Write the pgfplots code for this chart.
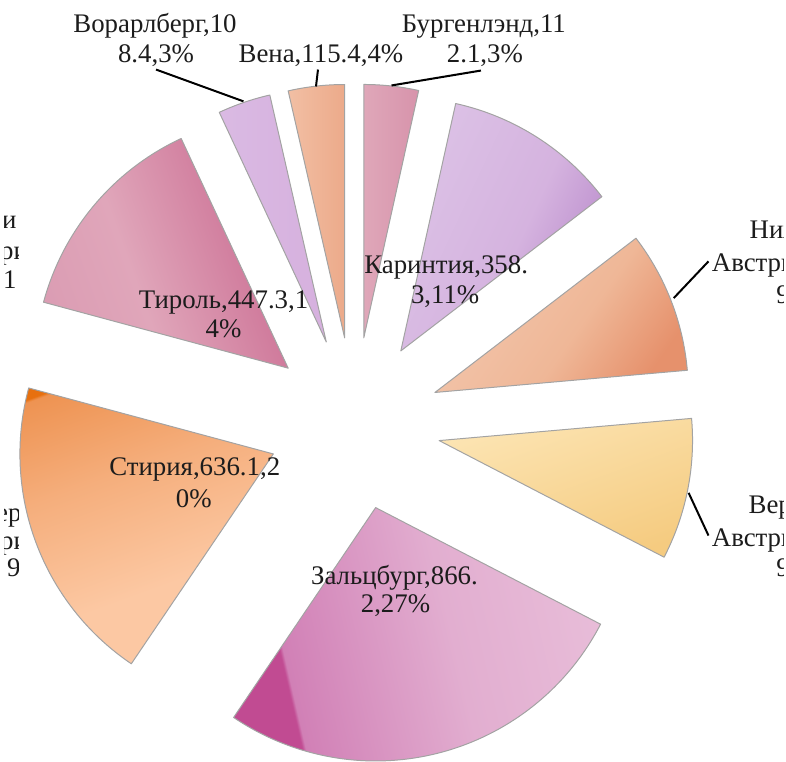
\documentclass[border=0pt]{standalone}
\usepackage{pgfplots}
\pgfplotsset{compat=1.18}
\usepackage{pgfplotstable}
\usepackage{fontspec}
\setmainfont{Liberation Serif}

\definecolor{edge}{HTML}{A3A3A3}
\definecolor{txt}{HTML}{1C1C1C}
\definecolor{burA}{HTML}{DFA7B9}\definecolor{burB}{HTML}{D793AB}
\definecolor{karA}{HTML}{DCC2E6}\definecolor{karM}{HTML}{D5B3DF}\definecolor{karB}{HTML}{B98ACB}
\definecolor{naA}{HTML}{F3C7AE}\definecolor{naM}{HTML}{EFB797}\definecolor{naB}{HTML}{E6916C}
\definecolor{vaA}{HTML}{FCE4B2}\definecolor{vaB}{HTML}{F5CB80}
\definecolor{salD}{HTML}{C14B92}\definecolor{salA}{HTML}{D180B6}\definecolor{salM}{HTML}{E2AED0}\definecolor{salB}{HTML}{E9BFDA}
\definecolor{stiD}{HTML}{E7700F}\definecolor{stiA}{HTML}{EE9352}\definecolor{stiM}{HTML}{F5AE7C}\definecolor{stiB}{HTML}{FCC8A3}
\definecolor{tirA}{HTML}{C9688F}\definecolor{tirM}{HTML}{E0A6BA}\definecolor{tirB}{HTML}{DA9BB2}
\definecolor{vorA}{HTML}{DABAE3}\definecolor{vorB}{HTML}{D6B0DE}
\definecolor{wieA}{HTML}{F2BFA4}\definecolor{wieB}{HTML}{ECAA8A}

% one shading per region, numbered in table order
\pgfdeclarehorizontalshading{sh1}{100bp}{color(0bp)=(burA); color(25bp)=(burA); color(75bp)=(burB); color(100bp)=(burB)}
\pgfdeclarehorizontalshading{sh2}{100bp}{color(0bp)=(karA); color(25bp)=(karA); color(55bp)=(karM); color(75bp)=(karB); color(100bp)=(karB)}
\pgfdeclarehorizontalshading{sh3}{100bp}{color(0bp)=(naA); color(25bp)=(naA); color(55bp)=(naM); color(75bp)=(naB); color(100bp)=(naB)}
\pgfdeclarehorizontalshading{sh4}{100bp}{color(0bp)=(vaA); color(25bp)=(vaA); color(75bp)=(vaB); color(100bp)=(vaB)}
\pgfdeclarehorizontalshading{sh5}{100bp}{color(0bp)=(salD); color(30bp)=(salD); color(30.5bp)=(salA); color(55bp)=(salM); color(80bp)=(salB); color(100bp)=(salB)}
\pgfdeclarehorizontalshading{sh6}{100bp}{color(0bp)=(stiD); color(21.5bp)=(stiD); color(22bp)=(stiA); color(40bp)=(stiM); color(62bp)=(stiB); color(100bp)=(stiB)}
\pgfdeclarehorizontalshading{sh7}{100bp}{color(0bp)=(tirA); color(24bp)=(tirA); color(58bp)=(tirM); color(80bp)=(tirB); color(100bp)=(tirB)}
\pgfdeclarehorizontalshading{sh8}{100bp}{color(0bp)=(vorA); color(25bp)=(vorA); color(75bp)=(vorB); color(100bp)=(vorB)}
\pgfdeclarehorizontalshading{sh9}{100bp}{color(0bp)=(wieA); color(25bp)=(wieA); color(75bp)=(wieB); color(100bp)=(wieB)}

\pgfdeclareplotmark{nothing}{}

% regions clockwise from 12 o'clock; id = shading number, ang = shading angle
\pgfplotstableread{
region value id ang
Burgenland 112.1 1 0
Kaernten 358.3 2 -25
Niederoesterreich 290.9 3 -35
Oberoesterreich 290.5 4 -70
Salzburg 866.2 5 13
Steiermark 636.1 6 -70
Tirol 447.3 7 200
Vorarlberg 108.4 8 0
Wien 115.4 9 0
}\regions

\begin{document}
\pgfplotstablecreatecol[create col/expr accum={\pgfmathaccuma+\thisrow{value}}{0}]{cum}\regions
\pgfplotstablegetelem{8}{cum}\of\regions
\let\total\pgfplotsretval
\def\cx{351.6}\def\cy{339.5}\def\ex{87}\def\R{127.5pt}
\begin{tikzpicture}[x=0.5pt, y=0.5pt,
  lab/.style={inner sep=0pt, text=txt, font=\fontsize{13.5}{15}\selectfont}]
\begin{axis}[
    at={(0,0)}, anchor=south west,
    x=0.5pt, y=0.5pt,
    xmin=0, xmax=786, ymin=0, ymax=766,
    hide axis, clip=false
]
\addplot[scatter, only marks, mark=nothing,
    visualization depends on={\thisrow{id} \as \sid},
    visualization depends on={\thisrow{ang} \as \shang},
    visualization depends on={90-(\thisrow{cum}-\thisrow{value})/\total*360 \as \aone},
    visualization depends on={-\thisrow{value}/\total*360 \as \adelta},
    scatter/@pre marker code/.code={%
      \pgfmathtruncatemacro\k{\sid}%
      \shade[shading=sh\k, shading angle=\shang, draw=edge, line width=0.5pt, line join=round]
        (0pt,0pt) -- (\aone:\R) arc[start angle=\aone, delta angle=\adelta, radius=\R] -- cycle;},
    scatter/@post marker code/.code={}]
  table[x expr={\cx+\ex*cos(90-(\thisrow{cum}-0.5*\thisrow{value})/\total*360)},
        y expr={\cy+\ex*sin(90-(\thisrow{cum}-0.5*\thisrow{value})/\total*360)}] {\regions};
\end{axis}

% leader lines
\draw[line width=1pt, black] (152,696) -- (240,664);
\draw[line width=1pt, black] (315,696) -- (313,679);
\draw[line width=1pt, black] (479,695) -- (389,680);
\draw[line width=1pt, black] (708,503) -- (673,466);
\draw[line width=1pt, black] (688,270) -- (708,227);

% labels
\node[lab, anchor=base] at (151,733) {Ворарлберг,10};
\node[lab, anchor=base] at (152,703) {8.4,3\%};
\node[lab, anchor=base] at (318,703) {Вена,115.4,4\%};
\node[lab, anchor=base] at (482,733) {Бургенлэнд,11};
\node[lab, anchor=base] at (483,703) {2.1,3\%};
\node[lab, anchor=base] at (444,491) {Каринтия,358.};
\node[lab, anchor=base] at (443,461) {3,11\%};
\node[lab, anchor=base] at (220,456) {Тироль,447.3,1};
\node[lab, anchor=base] at (220,426) {4\%};
\node[lab, anchor=base] at (191,287) {Стирия,636.1,2};
\node[lab, anchor=base] at (190,255) {0\%};
\node[lab, anchor=base] at (392,178) {Зальцбург,866.};
\node[lab, anchor=base] at (393,150) {2,27\%};
\begin{scope}
  \clip (700,0) rectangle (783,766);
  \node[lab, anchor=base west] at (749,526) {Нижняя};
  \node[lab, anchor=base west] at (711,493) {Австрия,2};
  \node[lab, anchor=base west] at (776,461) {90.9,9\%};
  \node[lab, anchor=base west] at (748,249) {Верхняя};
  \node[lab, anchor=base west] at (711,216) {Австрия,2};
  \node[lab, anchor=base west] at (776,186) {90.5,9\%};
\end{scope}
\begin{scope}
  \clip (0,0) rectangle (13.5,766);
  \node[lab, anchor=base east] at (12,536) {ли};
  \node[lab, anchor=base east] at (23.5,505) {Австри};
  \node[lab, anchor=base east] at (12,476) {1};
  \node[lab, anchor=base east] at (17,241) {Вер};
  \node[lab, anchor=base east] at (23.5,213) {Австри};
  \node[lab, anchor=base east] at (16,186) {9};
\end{scope}
\pgfresetboundingbox
\path (0,0) rectangle (786,766);
\end{tikzpicture}
\end{document}
